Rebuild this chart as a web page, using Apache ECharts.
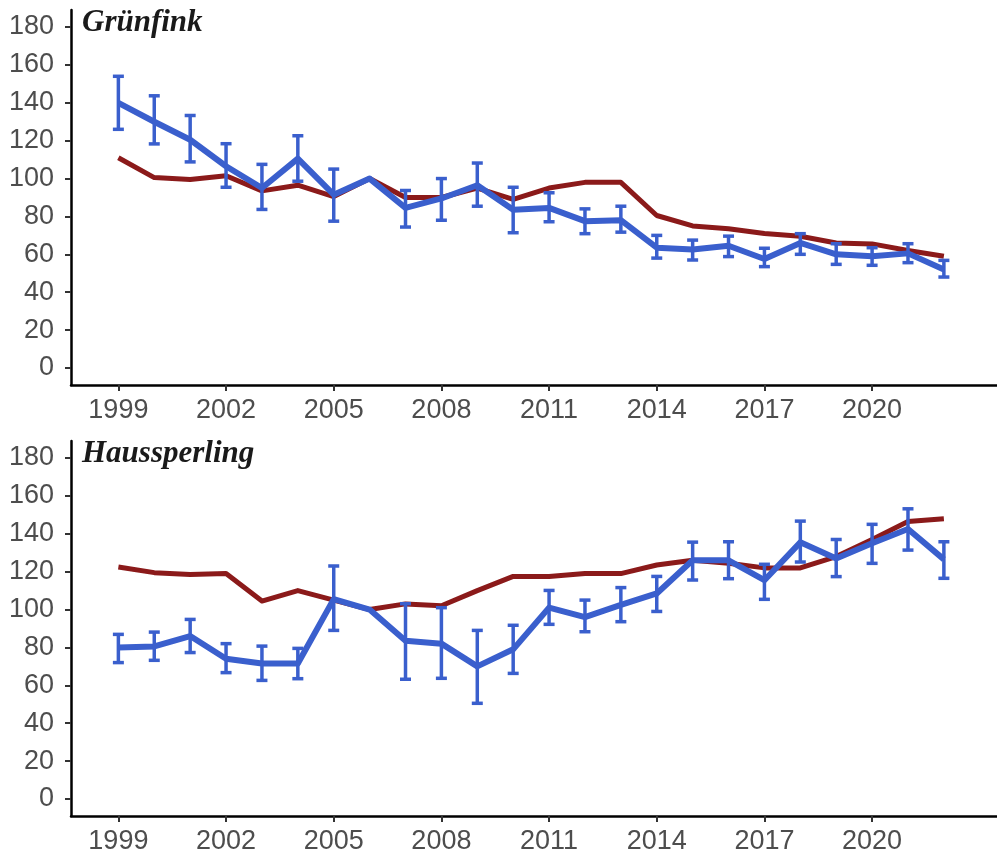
<!DOCTYPE html>
<html>
<head>
<meta charset="utf-8">
<script src="https://cdn.jsdelivr.net/npm/echarts@6/dist/echarts.min.js"></script>
<style>
  html, body { margin: 0; padding: 0; background: #ffffff; }
  #chart { width: 997px; height: 861px; }
</style>
</head>
<body>
<div id="chart"></div>
<script>
// Survey years
const years = [1999, 2000, 2001, 2002, 2003, 2004, 2005, 2006, 2007, 2008, 2009, 2010,
               2011, 2012, 2013, 2014, 2015, 2016, 2017, 2018, 2019, 2020, 2021, 2022];

// Grünfink: index (2006 = 100) with confidence limits, plus comparison trend
const gruenIndex = [140, 130, 120.5, 106.5, 95, 110.5, 91.5, 100, 84.5, 89.5, 96.5, 83.5,
                    84.5, 77.5, 78, 63.5, 62.5, 64.5, 57.5, 66, 60, 59, 60.5, 52];
const gruenLower = [126, 118.3, 108.8, 95.4, 83.7, 98.6, 77.5, null, 74.4, 78, 85.4, 71.4,
                    77.2, 70.9, 71.7, 58, 57, 58.8, 53.5, 60, 54.7, 54.2, 55.6, 48];
const gruenUpper = [154, 143.7, 133.3, 118.4, 107.5, 122.6, 105, null, 93.7, 100, 108.2, 95.4,
                    92.5, 84, 85.4, 70, 67.5, 69.6, 63.2, 70.9, 65.6, 63.5, 65.6, 56.8];
const gruenTrend = [111, 100.5, 99.5, 101.5, 93.5, 96.5, 90.5, 100, 90, 90, 95, 89,
                    95, 98, 98, 80.5, 75, 73.5, 71, 69.5, 66, 65.5, 62, 59];

// Haussperling
const hausIndex = [80, 80.5, 86, 74, 71.5, 71.5, 105.5, 100, 83.5, 82, 70, 79,
                   101, 96, 102.5, 108.5, 126, 126, 115.5, 135.5, 127, 135, 142.5, 126.5];
const hausLower = [72, 73.2, 77.3, 66.7, 62.6, 63.5, 89, null, 63.2, 63.7, 50.5, 66.3,
                   92.2, 88.3, 93.6, 99, 115.6, 116.3, 105.4, 125.1, 117.4, 124.4, 131.4, 116.5];
const hausUpper = [86.9, 88.1, 94.8, 82, 80.7, 79.5, 123, null, 103.1, 101, 89, 91.7,
                   110.1, 105, 111.6, 117.5, 135.6, 135.8, 123.9, 146.7, 137, 145, 153.2, 135.8];
const hausTrend = [122.5, 119.5, 118.5, 119, 104.5, 110, 105, 100, 103, 102, 110, 117.5,
                   117.5, 119, 119, 123.5, 126, 124.5, 122, 122, 128, 137, 146.5, 148];

// Axis ticks
const xTicks = [1999, 2002, 2005, 2008, 2011, 2014, 2017, 2020];
const yTicks = [0, 20, 40, 60, 80, 100, 120, 140, 160, 180];

const panelTitles = ['Grünfink', 'Haussperling'];

const BLUE = '#3A5FCD';
const RED = '#8B1A1A';
const LABEL_GREY = '#4D4D4D';

function pairs(values) {
  return years.map((y, i) => [y, values[i]]);
}

function bars(lower, upper) {
  const rows = [];
  years.forEach((y, i) => {
    if (lower[i] != null && upper[i] != null) rows.push([y, lower[i], upper[i]]);
  });
  return rows;
}

function renderErrorBar(params, api) {
  const x = api.value(0);
  const lo = api.coord([x, api.value(1)]);
  const hi = api.coord([x, api.value(2)]);
  const half = 5.5;
  const style = { stroke: BLUE, lineWidth: 3.5, lineCap: 'butt' };
  return {
    type: 'group',
    children: [
      { type: 'line', shape: { x1: lo[0], y1: lo[1], x2: hi[0], y2: hi[1] }, style: style },
      { type: 'line', shape: { x1: hi[0] - half, y1: hi[1], x2: hi[0] + half, y2: hi[1] }, style: style },
      { type: 'line', shape: { x1: lo[0] - half, y1: lo[1], x2: lo[0] + half, y2: lo[1] }, style: style }
    ]
  };
}

const gridTops = [10, 441];
const gridHeight = 375;

function xAxisFor(i) {
  return {
    type: 'value', gridIndex: i, min: 1997.68, max: 2023.48,
    splitLine: { show: false },
    axisLine: { show: true, onZero: false, lineStyle: { color: '#000', width: 2.5 } },
    axisTick: { show: true, customValues: xTicks, length: 6, lineStyle: { color: '#333', width: 2 } },
    axisLabel: {
      customValues: xTicks, margin: 12, color: LABEL_GREY,
      fontFamily: 'Liberation Sans', fontSize: 27,
      formatter: v => String(Math.round(v))
    }
  };
}

function yAxisFor(i) {
  return {
    type: 'value', gridIndex: i, min: -9, max: 189,
    splitLine: { show: false },
    axisLine: { show: true, onZero: false, lineStyle: { color: '#000', width: 2.5 } },
    axisTick: { show: true, customValues: yTicks, length: 6, lineStyle: { color: '#333', width: 2 } },
    axisLabel: {
      customValues: yTicks, margin: 17, color: LABEL_GREY,
      fontFamily: 'Liberation Sans', fontSize: 27
    }
  };
}

function panelSeries(i, trend, index, lower, upper) {
  return [
    {
      type: 'line', xAxisIndex: i, yAxisIndex: i, data: pairs(trend),
      symbol: 'none', z: 2, animation: false,
      lineStyle: { color: RED, width: 5, join: 'round' }
    },
    {
      type: 'line', xAxisIndex: i, yAxisIndex: i, data: pairs(index),
      symbol: 'none', z: 3, animation: false,
      lineStyle: { color: BLUE, width: 6, join: 'round' }
    },
    {
      type: 'custom', xAxisIndex: i, yAxisIndex: i, data: bars(lower, upper),
      renderItem: renderErrorBar, z: 4, animation: false,
      encode: { x: 0, y: [1, 2] }
    }
  ];
}

const chart = echarts.init(document.getElementById('chart'), null, { renderer: 'canvas' });

chart.setOption({
  backgroundColor: '#ffffff',
  animation: false,
  grid: gridTops.map(t => ({ left: 71, top: t, width: 926, height: gridHeight, containLabel: false })),
  xAxis: [xAxisFor(0), xAxisFor(1)],
  yAxis: [yAxisFor(0), yAxisFor(1)],
  graphic: panelTitles.map((name, i) => ({
    type: 'text', left: 82, top: gridTops[i] - 3, z: 10,
    style: {
      text: name, fill: '#1a1a1a',
      font: 'italic bold 31px "Liberation Serif"'
    }
  })),
  series: [
    ...panelSeries(0, gruenTrend, gruenIndex, gruenLower, gruenUpper),
    ...panelSeries(1, hausTrend, hausIndex, hausLower, hausUpper)
  ]
});
</script>
</body>
</html>
